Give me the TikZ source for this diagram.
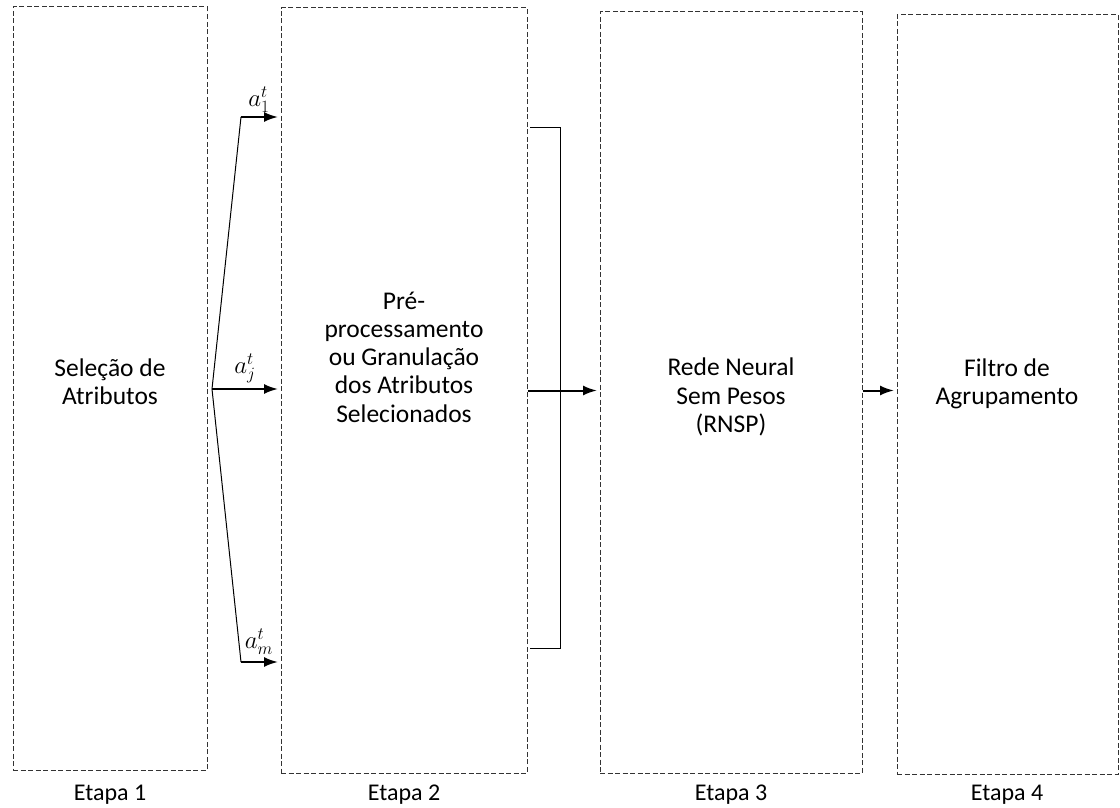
\documentclass[tikz,border=0pt]{standalone}
\usepackage{fontspec}
\setmainfont{Carlito}
\usetikzlibrary{arrows.meta}
\begin{document}
\begin{tikzpicture}[x=1pt,y=-1pt,
  stage/.style={draw=black!80, dash pattern=on 5pt off 2.5pt, line width=1pt, inner sep=0pt},
  txt/.style={align=center, font=\fontsize{25.5}{28.3}\selectfont, inner sep=0pt},
  steptxt/.style={font=\fontsize{24}{28}\selectfont, inner sep=0pt},
  sym/.style={font=\fontsize{25}{28}\selectfont, inner sep=0pt},
  arr/.style={-{Latex[length=14pt,width=10pt]}, line width=2pt, shorten >=2.5pt},
  fan/.style={line width=1pt}]
\useasboundingbox (0,0) rectangle (1120,808);

% the four stages
\node[stage, minimum width=194pt, minimum height=763pt] (s1) at (110,388.5) {};
\node[stage, minimum width=246pt, minimum height=765pt] (s2) at (404,390.5) {};
\node[stage, minimum width=262pt, minimum height=761pt] (s3) at (731,392.5) {};
\node[stage, minimum width=221pt, minimum height=759pt] (s4) at (1007.5,394.5) {};

% stage contents
\node[txt] (t1) at (110,382) {Seleção de\\Atributos};
\node[txt] (t2) at (404,357) {Pré-\\processamento\\ou Granulação\\dos Atributos\\Selecionados};
\node[txt] (t3) at (731,397) {Rede Neural\\Sem Pesos\\(RNSP)};
\node[txt] (t4) at (1007,384) {Filtro de\\Agrupamento};

% stage captions
\node[steptxt] (e1) at (110,795) {Etapa 1};
\node[steptxt] (e2) at (404,795) {Etapa 2};
\node[steptxt] (e3) at (731,795) {Etapa 3};
\node[steptxt] (e4) at (1007,795) {Etapa 4};

% attribute fan-out into stage 2
\coordinate (f)  at (212,389);
\coordinate (c1) at (241,117);
\coordinate (cm) at (241,662);
\draw[fan] (c1) -- (f) -- (cm);
\draw[arr] (c1) -- (c1 -| s2.west);
\draw[arr] (f)  -- (f -| s2.west);
\draw[arr] (cm) -- (cm -| s2.west);
\node[sym] (a1) at (259,100) {$a_1^t$};
\node[sym] (aj) at (245,368) {$a_j^t$};
\node[sym] (am) at (259,642) {$a_m^t$};

% bracket grouping the granulated attributes
\coordinate (b1) at (530,127);
\coordinate (b2) at (560,127);
\coordinate (b3) at (560,648);
\coordinate (b4) at (530,648);
\draw[line width=1pt] (b1) -- (b2) -- (b3) -- (b4);

% links between stages
\draw[arr] (s2.east) -- (s3.west |- s2.east);
\draw[arr] (s3.east |- s2.east) -- (s4.west |- s2.east);
\end{tikzpicture}
\end{document}
